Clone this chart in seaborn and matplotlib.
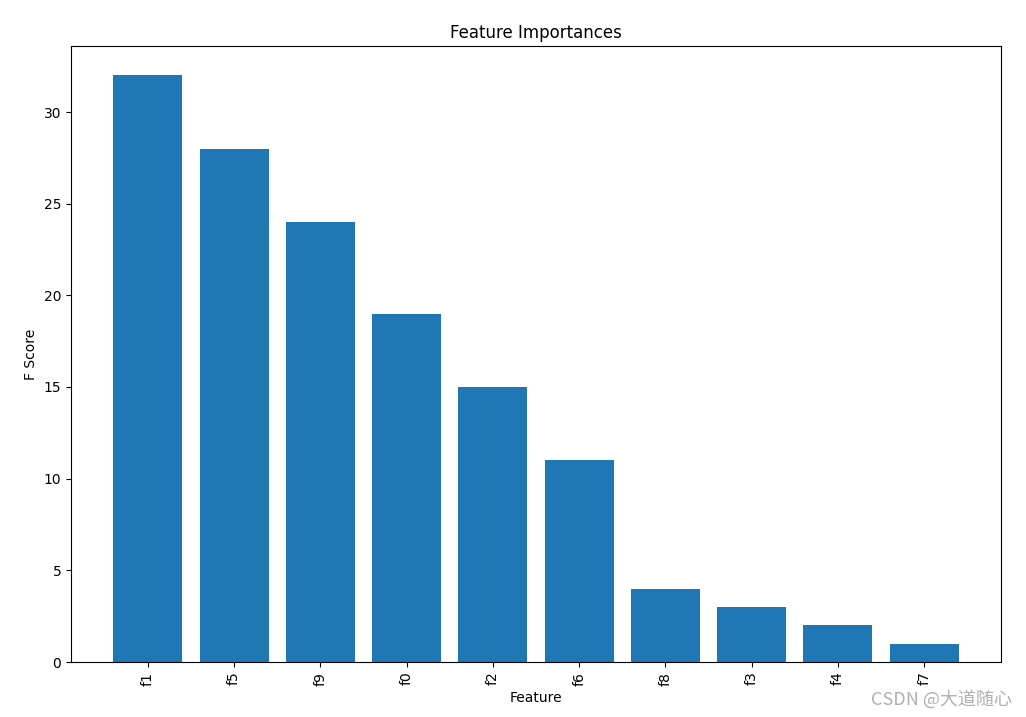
import matplotlib
matplotlib.use("Agg")
import matplotlib.pyplot as plt
import seaborn as sns
import pandas as pd

features = ["f1", "f5", "f9", "f0", "f2", "f6", "f8", "f3", "f4", "f7"]
scores = [32, 28, 24, 19, 15, 11, 4, 3, 2, 1]

df = pd.DataFrame({"Feature": features, "F Score": scores})

fig = plt.figure(figsize=(10.26, 7.17), dpi=100)
ax = fig.add_axes([71/1026, 55/717, 930/1026, 616/717])

sns.barplot(data=df, x="Feature", y="F Score", color="#1f77b4", saturation=1,
            width=0.8, linewidth=0, ax=ax, order=features)

n = len(features)
m = 0.05 * (n - 1 + 0.8)
ax.set_xlim(-0.4 - m, n - 1 + 0.4 + m)
ax.set_ylim(0, max(scores) * 1.05)
ax.tick_params(axis="x", labelrotation=90)
ax.set_title("Feature Importances", fontsize=12)
ax.set_xlabel("Feature")
ax.set_ylabel("F Score")
for s in ax.spines.values():
    s.set_visible(True)

fig.text(0.986, 0.011, "CSDN @大道随心", ha="right", va="bottom", fontsize=13,
         color="#b0b0b0", family=["Noto Sans CJK SC", "DejaVu Sans"])

fig.savefig("out.png", dpi=100)
